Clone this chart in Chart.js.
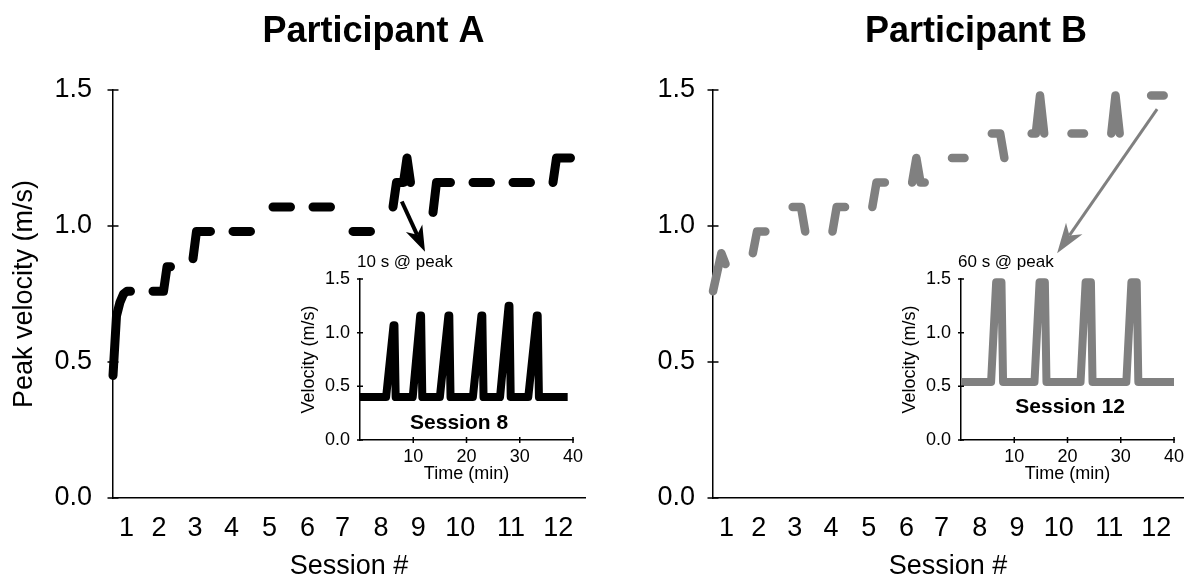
<!DOCTYPE html>
<html lang="en">
<head>
<meta charset="UTF-8">
<title>Peak velocity by session</title>
<script src="https://cdn.jsdelivr.net/npm/chart.js@4"></script>
<style>
  html, body { margin: 0; padding: 0; background: #fff; overflow: hidden; }
  #wrap { position: relative; width: 1188px; height: 577px; overflow: hidden; background: #fff; }
  canvas { position: absolute; }
</style>
</head>
<body>
<div id="wrap">
  <canvas id="main-a" width="594" height="600" style="left:0;top:0"></canvas>
  <canvas id="main-b" width="594" height="600" style="left:594px;top:0"></canvas>
  <canvas id="inset-a" width="300" height="245" style="left:290px;top:245px"></canvas>
  <canvas id="inset-b" width="300" height="245" style="left:891px;top:245px"></canvas>
</div>
<script>
// ---- values ----
const sessionLabels = ['1', '2', '3', '4', '5', '6', '7', '8', '9', '10', '11', '12'];
// where the session numbers sit under the axis (in session units)
const sessionTickPos = [1.34, 2.15, 3.05, 3.96, 4.91, 5.86, 6.74, 7.7, 8.63, 9.68, 10.95, 12.13];
const velocityTicks = [0, 0.5, 1.0, 1.5];
const timeTicks = [10, 20, 30, 40];

// peak velocity (m/s) of each bout, one small list per session
const peaksA = [
  [0.45, 0.67, 0.72, 0.75, 0.76, 0.76],
  [0.76, 0.76, 0.76, 0.76, 0.85, 0.85],
  [0.88, 0.98, 0.98, 0.98, 0.98, 0.98],
  [0.98, 0.98, 0.98, 0.98, 0.98, 0.98],
  [1.07, 1.07, 1.07, 1.07, 1.07, 1.07],
  [1.07, 1.07, 1.07, 1.07, 1.07, 1.07],
  [0.98, 0.98, 0.98, 0.98, 0.98, 0.98],
  [1.07, 1.16, 1.16, 1.16, 1.25, 1.16],
  [1.05, 1.16, 1.16, 1.16, 1.16, 1.16],
  [1.16, 1.16, 1.16, 1.16, 1.16, 1.16],
  [1.16, 1.16, 1.16, 1.16, 1.16, 1.16],
  [1.16, 1.25, 1.25, 1.25, 1.25, 1.25]
];
const peaksB = [
  [0.76, 0.83, 0.90, 0.86],
  [0.90, 0.98, 0.98, 0.98],
  [1.07, 1.07, 1.07, 0.98],
  [0.98, 1.07, 1.07, 1.07],
  [1.07, 1.16, 1.16, 1.16],
  [1.16, 1.25, 1.16, 1.16],
  [1.25, 1.25, 1.25, 1.25],
  [1.34, 1.34, 1.34, 1.25],
  [1.34, 1.34, 1.48, 1.34],
  [1.34, 1.34, 1.34, 1.34],
  [1.34, 1.48, 1.34],
  [1.48, 1.48, 1.48, 1.48]
];

// inset traces: velocity over the session (time in min, velocity in m/s)
const session8Time = [0, 4.9, 6.3, 6.47, 6.7, 9.9, 11.3, 11.47, 11.7, 15.0, 16.6, 16.77, 17.0,
  21.2, 22.8, 22.97, 23.2, 26.3, 27.9, 28.07, 28.3, 31.6, 33.2, 33.37, 33.6, 39];
const session8Vel = [0.40, 0.40, 1.07, 1.07, 0.40, 0.40, 1.16, 1.16, 0.40, 0.40, 1.16, 1.16, 0.40,
  0.40, 1.16, 1.16, 0.40, 0.40, 1.25, 1.25, 0.40, 0.40, 1.16, 1.16, 0.40, 0.40];
const session12Time = [0, 5.65, 6.6, 7.6, 7.9, 13.8, 14.75, 15.75, 16.05, 22.45, 23.4, 24.4, 24.7,
  31.05, 32.0, 33.0, 33.3, 40];
const session12Vel = [0.54, 0.54, 1.47, 1.47, 0.54, 0.54, 1.47, 1.47, 0.54, 0.54, 1.47, 1.47, 0.54,
  0.54, 1.47, 1.47, 0.54, 0.54];

const FONT = "'Liberation Sans', Arial, sans-serif";
Chart.defaults.font.family = FONT;
Chart.defaults.color = '#000';

// one short stroke per session, broken by a null point
function sessionPoints(sessions, step) {
  const pts = [];
  sessions.forEach((vals, k) => {
    vals.forEach((v, i) => pts.push({x: k + 1 + i * step, y: v}));
    pts.push({x: k + 1 + vals.length * step, y: null});
  });
  return pts;
}

function drawArrow(ctx, xs, ys, a) {
  const x0 = xs.getPixelForValue(a.from[0]), y0 = ys.getPixelForValue(a.from[1]);
  const x1 = xs.getPixelForValue(a.to[0]), y1 = ys.getPixelForValue(a.to[1]);
  const len = Math.hypot(x1 - x0, y1 - y0);
  const ux = (x1 - x0) / len, uy = (y1 - y0) / len;
  const bx = x1 - ux * a.head, by = y1 - uy * a.head;
  const nx = x1 - ux * a.head * 0.72, ny = y1 - uy * a.head * 0.72;
  ctx.strokeStyle = a.color;
  ctx.fillStyle = a.color;
  ctx.lineWidth = a.width;
  ctx.lineCap = 'butt';
  ctx.beginPath();
  ctx.moveTo(x0, y0);
  ctx.lineTo(nx, ny);
  ctx.stroke();
  ctx.beginPath();
  ctx.moveTo(x1, y1);
  ctx.lineTo(bx - uy * a.half, by + ux * a.half);
  ctx.lineTo(nx, ny);
  ctx.lineTo(bx + uy * a.half, by - ux * a.half);
  ctx.closePath();
  ctx.fill();
}

// axis ticks that cross the axis line, titles, notes and arrows
function extras(cfg) {
  return {
    id: 'extras',
    afterDraw(chart) {
      const ctx = chart.ctx;
      const xs = chart.scales.x, ys = chart.scales.y;
      const area = chart.chartArea;
      ctx.save();
      ctx.strokeStyle = '#000';
      ctx.lineWidth = 1.5;
      ctx.beginPath();
      ys.ticks.forEach(t => {
        const py = ys.getPixelForValue(t.value);
        ctx.moveTo(area.left - cfg.yTick, py);
        ctx.lineTo(area.left + cfg.yTick, py);
      });
      if (cfg.xTick) {
        xs.ticks.forEach(t => {
          const px = xs.getPixelForValue(t.value);
          ctx.moveTo(px, area.bottom - cfg.xTick);
          ctx.lineTo(px, area.bottom + cfg.xTick);
        });
      }
      ctx.stroke();

      ctx.fillStyle = '#000';
      if (cfg.title) {
        ctx.font = 'bold 36px ' + FONT;
        ctx.textAlign = 'center';
        ctx.textBaseline = 'alphabetic';
        ctx.fillText(cfg.title, (area.left + area.right) / 2 + cfg.titleDx, 42);
      }
      if (cfg.note) {
        ctx.font = '17px ' + FONT;
        ctx.textAlign = 'left';
        ctx.textBaseline = 'alphabetic';
        ctx.fillText(cfg.note, area.left - 3, area.top - 12);
      }
      if (cfg.label) {
        ctx.font = 'bold 21px ' + FONT;
        ctx.textAlign = 'center';
        ctx.textBaseline = 'middle';
        ctx.fillText(cfg.label.text, xs.getPixelForValue(cfg.label.at[0]), ys.getPixelForValue(cfg.label.at[1]));
      }
      if (cfg.arrow) drawArrow(ctx, xs, ys, cfg.arrow);
      ctx.restore();
    }
  };
}

function mainChart(id, sessions, o) {
  return new Chart(document.getElementById(id), {
    type: 'line',
    data: {
      datasets: [{
        data: sessionPoints(sessions, o.step),
        borderColor: o.color,
        borderWidth: o.lineWidth,
        borderCapStyle: 'round',
        borderJoinStyle: 'round',
        pointRadius: 0,
        tension: 0,
        spanGaps: false,
        clip: false
      }]
    },
    options: {
      responsive: false,
      animation: false,
      layout: {padding: {top: 90, right: o.padRight, bottom: 0, left: 0}},
      plugins: {legend: {display: false}, tooltip: {enabled: false}},
      scales: {
        x: {
          type: 'linear', min: 1, max: 12.8,
          grid: {display: false, drawTicks: false},
          border: {display: true, color: '#000', width: 1.5},
          afterBuildTicks: s => { s.ticks = sessionTickPos.map(v => ({value: v})); },
          afterFit: s => { s.height = 102; },
          ticks: {
            callback: (v, i) => sessionLabels[i],
            autoSkip: false, maxRotation: 0, padding: 14,
            font: {size: 27}, color: '#000'
          },
          title: {display: true, text: 'Session #', color: '#000', font: {size: 27}, padding: {top: 0, bottom: 17}}
        },
        y: {
          min: 0, max: 1.5,
          grid: {display: false, drawTicks: false},
          border: {display: true, color: '#000', width: 1.5},
          afterBuildTicks: s => { s.ticks = velocityTicks.map(v => ({value: v})); },
          afterFit: s => { s.width = o.axisLeft; },
          ticks: {callback: v => v.toFixed(1), padding: o.yPad, font: {size: 27}, color: '#000'},
          title: {display: o.yTitle, text: 'Peak velocity (m/s)', color: '#000', font: {size: 27}, padding: {top: 8, bottom: 0}}
        }
      }
    },
    plugins: [extras({yTick: 5.5, title: o.title, titleDx: o.titleDx, arrow: o.arrow})]
  });
}

function insetChart(id, time, vel, o) {
  return new Chart(document.getElementById(id), {
    type: 'line',
    data: {
      datasets: [{
        data: time.map((t, i) => ({x: t, y: vel[i]})),
        borderColor: o.color,
        borderWidth: 8,
        borderCapStyle: 'butt',
        borderJoinStyle: 'round',
        pointRadius: 0,
        tension: 0,
        clip: false
      }]
    },
    options: {
      responsive: false,
      animation: false,
      layout: {padding: {top: 34, right: 17, bottom: 0, left: 0}},
      plugins: {legend: {display: false}, tooltip: {enabled: false}},
      scales: {
        x: {
          type: 'linear', min: 0, max: 40,
          grid: {display: false, drawTicks: false},
          border: {display: true, color: '#000', width: 1.5},
          afterBuildTicks: s => { s.ticks = timeTicks.map(v => ({value: v})); },
          afterFit: s => { s.height = 50; },
          ticks: {callback: v => String(v), autoSkip: false, maxRotation: 0, padding: 6, font: {size: 18}, color: '#000'},
          title: {display: true, text: 'Time (min)', color: '#000', font: {size: 18}, padding: {top: 0, bottom: 5}}
        },
        y: {
          min: 0, max: 1.5,
          grid: {display: false, drawTicks: false},
          border: {display: true, color: '#000', width: 1.5},
          afterBuildTicks: s => { s.ticks = velocityTicks.map(v => ({value: v})); },
          afterFit: s => { s.width = 70; },
          ticks: {callback: v => v.toFixed(1), padding: 10, font: {size: 18}, color: '#000'},
          title: {display: true, text: 'Velocity (m/s)', color: '#000', font: {size: 18}, padding: {top: 8, bottom: 0}}
        }
      }
    },
    plugins: [extras({yTick: 3, xTick: 3, note: o.note, label: o.label})]
  });
}

mainChart('main-a', peaksA, {
  color: '#000', lineWidth: 9, step: 0.0875,
  axisLeft: 113, padRight: 9, yPad: 21, yTitle: true,
  title: 'Participant A', titleDx: 24.5,
  arrow: {from: [8.22, 1.09], to: [8.8, 0.905], color: '#000', width: 4, head: 26, half: 9}
});

mainChart('main-b', peaksB, {
  color: '#808080', lineWidth: 8.5, step: 0.105,
  axisLeft: 119, padRight: 5, yPad: 18, yTitle: false,
  title: 'Participant B', titleDx: 28,
  arrow: {from: [12.15, 1.43], to: [9.64, 0.90], color: '#808080', width: 3, head: 30, half: 10}
});

insetChart('inset-a', session8Time, session8Vel, {
  color: '#000', note: '10 s @ peak', label: {text: 'Session 8', at: [18.6, 0.16]}
});

insetChart('inset-b', session12Time, session12Vel, {
  color: '#808080', note: '60 s @ peak', label: {text: 'Session 12', at: [20.5, 0.31]}
});
</script>
</body>
</html>
